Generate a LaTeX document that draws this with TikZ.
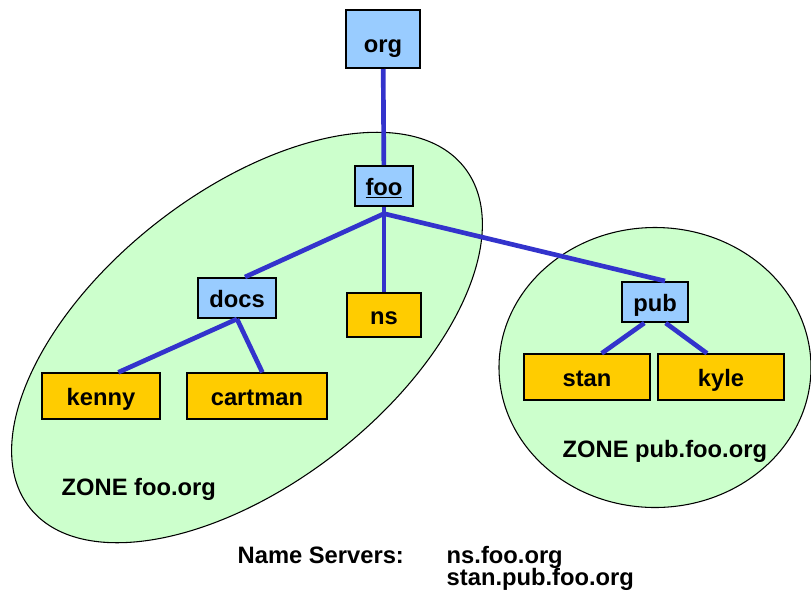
\documentclass[tikz,border=0pt]{standalone}
\usepackage{fontspec}
\setmainfont{Liberation Sans}
\usepackage{tikz}
\usetikzlibrary{calc}

\definecolor{zonegreen}{RGB}{204,255,204}
\definecolor{domblue}{RGB}{153,204,255}
\definecolor{hostgold}{RGB}{255,204,0}
\definecolor{treeline}{RGB}{51,51,204}

\begin{document}
\begin{tikzpicture}[x=0.75pt,y=-0.75pt,
    font=\fontsize{17.8}{21}\selectfont\bfseries,
    zone/.style={draw=black,line width=0.8pt,fill=zonegreen},
    dombox/.style={draw=black,line width=1.5pt,fill=domblue,minimum height=30pt,inner sep=0pt,text height=14pt,text depth=0pt},
    hostbox/.style={draw=black,line width=1.5pt,fill=hostgold,minimum height=34pt,inner sep=0pt,text height=14pt,text depth=0pt},
    link/.style={draw=treeline,line width=3.5pt}]
    \useasboundingbox (0,0) rectangle (811,594);
    % zones
    \draw[zone,rotate around={38:(247,337.5)}] (247,337.5) ellipse [x radius=276, y radius=146];
    \draw[zone] (655,367.5) ellipse [x radius=156, y radius=140];
    \node[anchor=base west] (zonefoo) at (57,495) {ZONE foo.org};
    \node[anchor=base west] (zonepub) at (558,457) {ZONE pub.foo.org};
    % domains and hosts
    \node[dombox,minimum width=56pt,minimum height=43.5pt,text height=19.5pt] (org) at (383,39) {org};
    \node[dombox,minimum width=43.5pt] (foo) at (384,186) {\underline{foo}};
    \node[dombox,minimum width=58.5pt] (docs) at (237,298) {docs};
    \node[hostbox,minimum width=56pt,minimum height=33pt] (ns) at (384,315) {ns};
    \node[hostbox,minimum width=88pt] (kenny) at (101,396) {kenny};
    \node[hostbox,minimum width=105pt] (cartman) at (257,396) {cartman};
    \node[dombox,minimum width=49pt] (pub) at (655,302) {pub};
    \node[hostbox,minimum width=94.5pt] (stan) at (587,377) {stan};
    \node[hostbox,minimum width=95pt] (kyle) at (721,377) {kyle};
    \coordinate (fork) at ([yshift=-5pt]foo.south);
    % tree
    \draw[link] (org) -- (foo);
    \draw[link] (foo.south) -- (ns.north);
    \draw[link] (fork) -- ([xshift=6pt]docs.north);
    \draw[link] (fork) -- ([xshift=7.5pt]pub.north);
    \draw[link] (docs.south) -- ([xshift=13pt]kenny.north);
    \draw[link] (docs.south) -- ([xshift=4pt]cartman.north);
    \draw[link] ([xshift=-8pt]pub.south) -- ([xshift=11pt]stan.north);
    \draw[link] ([xshift=8pt]pub.south) -- ([xshift=-10.5pt]kyle.north);
    % name servers
    \node[anchor=base west] (nslabel) at (233,563) {Name Servers:};
    \node[anchor=base west] (nsfoo) at (442,563) {ns.foo.org};
    \node[anchor=base west] (nsstan) at (442,585) {stan.pub.foo.org};
\end{tikzpicture}
\end{document}
